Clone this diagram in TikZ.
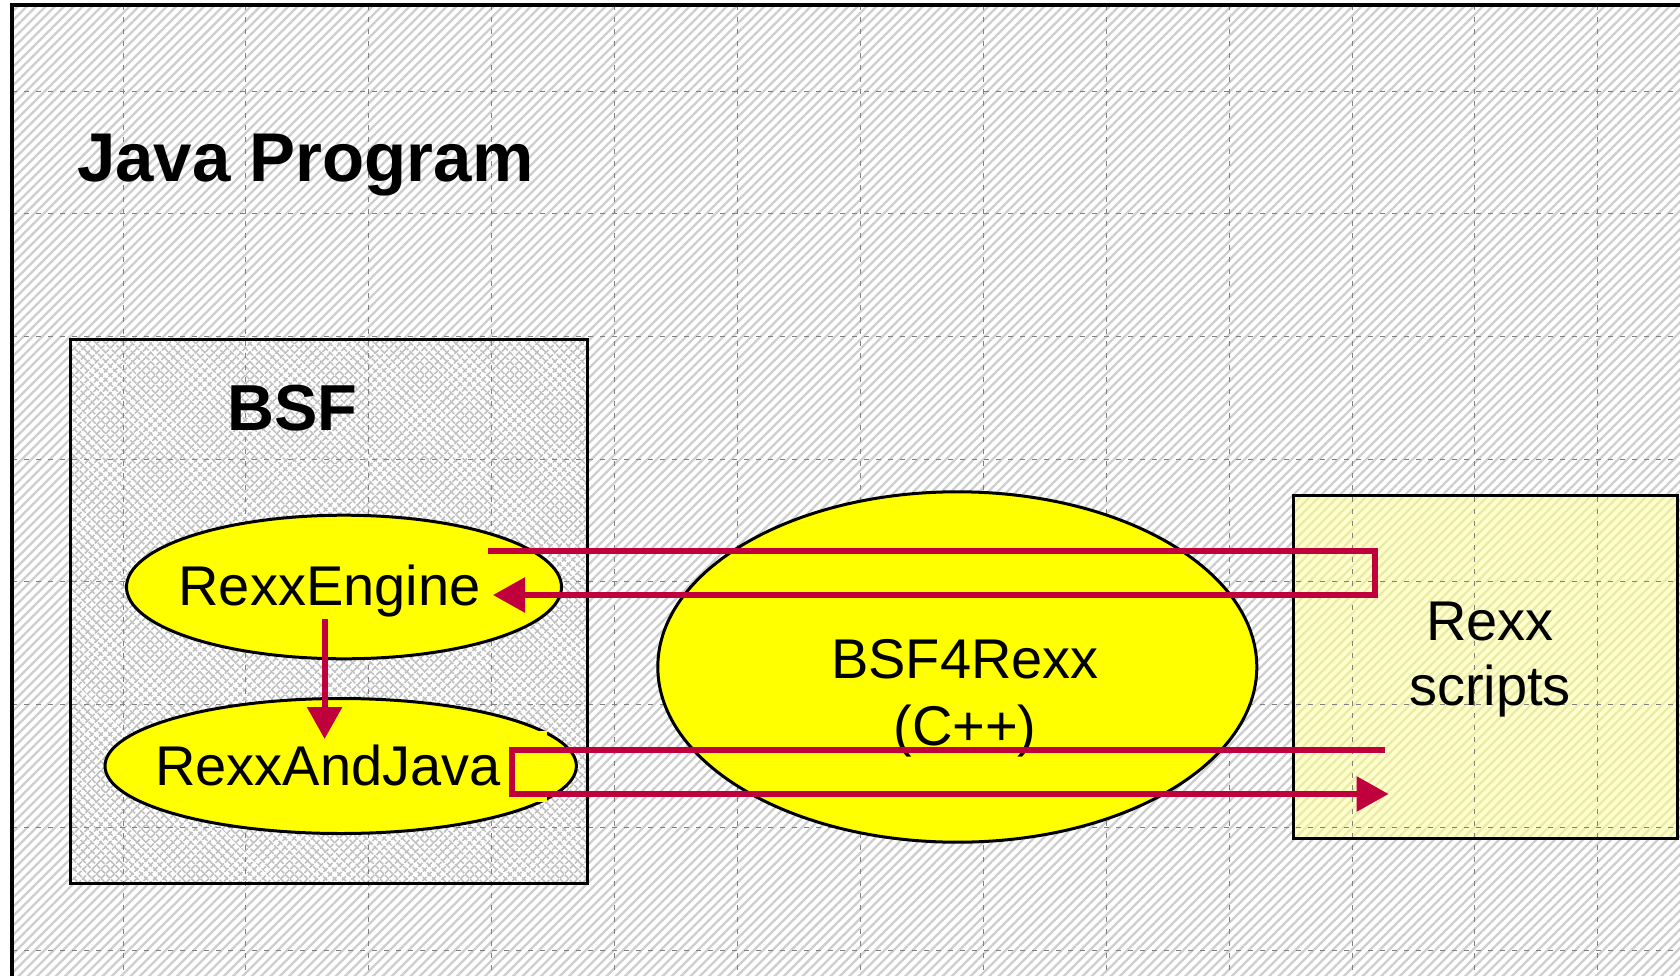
\documentclass[tikz,border=0pt]{standalone}
\usepackage{fontspec}
\setmainfont{Liberation Sans}
\usetikzlibrary{shapes.geometric,arrows.meta,patterns.meta}
\definecolor{connred}{RGB}{192,0,60}
\definecolor{hatchgray}{RGB}{206,206,206}
\definecolor{crossgray}{RGB}{192,192,192}
\definecolor{paleyellow}{RGB}{255,255,204}
\definecolor{paleyellowline}{RGB}{234,234,168}
\definecolor{bubbleyellow}{RGB}{255,255,0}
\begin{document}
\begin{tikzpicture}[x=1pt,y=-1pt,
  gridline/.style={draw=black!50, line width=0.7pt, dash pattern=on 5pt off 7pt},
  boxborder/.style={draw=black, line width=3pt, inner sep=0pt, fill=none},
  bubble/.style={ellipse, draw=black, fill=bubbleyellow, line width=3pt, inner sep=0pt},
  conn/.style={draw=connred, line width=5.8pt, line join=miter},
  tip/.style={-{Triangle[length=32pt,width=34pt]}},
  lbl/.style={inner sep=0pt, font=\fontsize{56}{66}\selectfont},
  title/.style={inner sep=0pt, font=\bfseries\fontsize{69}{80}\selectfont},
]
\useasboundingbox (0,0) rectangle (1680,976);
% background
\fill[white] (0,0) rectangle (1680,976);
\fill[pattern={Lines[angle=45,distance=6.6pt,line width=2.3pt]}, pattern color=hatchgray] (12,5) rectangle (1690,990);
% BSF box fill (crosshatch)
\fill[white] (70.7,339.6) rectangle (587.1,883.9);
\fill[pattern={Lines[angle=45,distance=6.4pt,line width=2pt]}, pattern color=crossgray] (70.7,339.6) rectangle (587.1,883.9);
\fill[pattern={Lines[angle=-45,distance=6.4pt,line width=2pt]}, pattern color=crossgray] (70.7,339.6) rectangle (587.1,883.9);
% Rexx scripts box fill
\fill[paleyellow] (1293,495) rectangle (1677,838);
\fill[pattern={Lines[angle=45,distance=6.6pt,line width=2.3pt]}, pattern color=paleyellowline] (1293,495) rectangle (1677,838);
% grid
\foreach \k in {1,...,13} \draw[gridline] (122.9*\k,5) -- (122.9*\k,976);
\foreach \k in {0,...,7} \draw[gridline] (12,91+122.7*\k) -- (1680,91+122.7*\k);
% outer frame
\draw[line width=3.2pt] (12,990) -- (12,5) -- (1690,5);
% boxes
\node[boxborder, minimum width=516.4pt, minimum height=544.3pt] (bsfbox) at (328.9,611.75) {};
\node[boxborder, minimum width=384pt, minimum height=343pt] (rexxbox) at (1485,666.5) {};
% titles
\node[title, anchor=base west] (java) at (77,182) {Java Program};
\node[inner sep=0pt, font=\bfseries\fontsize{65}{75}\selectfont, anchor=base] (bsftxt) at (292.5,430.7) {BSF};
% ellipses
\node[bubble, minimum width=435pt, minimum height=143.6pt] (reng) at (344,587) {};
\node[lbl, anchor=base] (rengtxt) at (329.5,605) {RexxEngine};
\node[bubble, minimum width=471.4pt, minimum height=135pt] (raj) at (340.7,766) {};
\node[lbl, anchor=base] (rajtxt) at (328,785) {RexxAndJava};
\fill[bubbleyellow] (511,731) rectangle (547,802);
\node[bubble, minimum width=599pt, minimum height=350.4pt] (bsf4) at (957.3,667) {};
\node[lbl, anchor=base] (bsf4a) at (965,678) {BSF4Rexx};
\node[lbl, anchor=base] (bsf4b) at (965,745) {(C++)};
\node[lbl, anchor=base] (rexxa) at (1490,640) {Rexx};
\node[lbl, anchor=base] (rexxb) at (1490,705) {scripts};
% connectors
\coordinate (c1s) at (487.5,551);
\coordinate (c1a) at (1375,551);
\coordinate (c1b) at (1375,595);
\coordinate (c1e) at (493,595);
\draw[conn, tip] (c1s) -- (c1a) -- (c1b) -- (c1e);
\coordinate (c2s) at (324.6,619);
\coordinate (c2e) at (324.6,739);
\draw[conn, tip] (c2s) -- (c2e);
\coordinate (c3s) at (1385,750);
\coordinate (c3a) at (512,750);
\coordinate (c3b) at (512,794);
\coordinate (c3e) at (1388.6,794);
\draw[conn, tip] (c3s) -- (c3a) -- (c3b) -- (c3e);
\end{tikzpicture}
\end{document}
